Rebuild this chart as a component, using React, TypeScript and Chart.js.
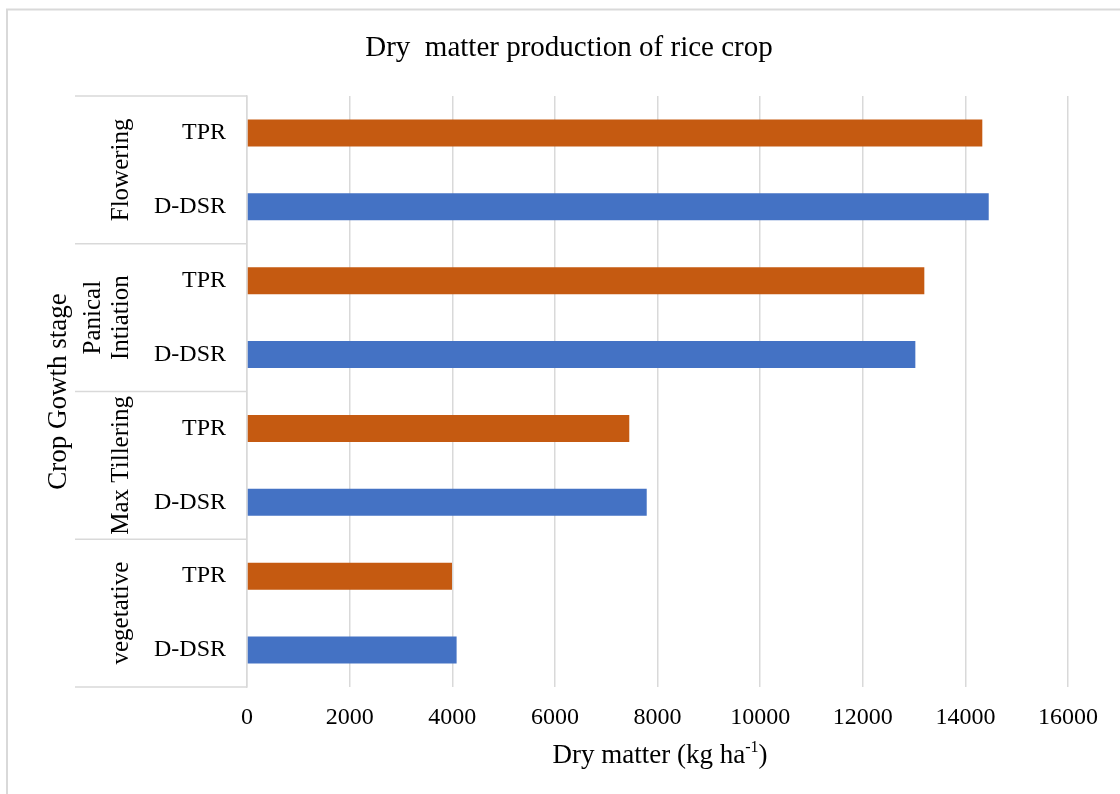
import React, { useEffect, useRef } from "react";
import { Chart, registerables } from "chart.js";

Chart.register(...registerables);

const chartTitle = "Dry  matter production of rice crop";
const stages = ["Flowering", "Panical\nIntiation", "Max Tillering", "vegetative"];
const methods = ["TPR", "D-DSR"];
const tprValues = [14330, 13200, 7450, 3995];
const ddsrValues = [14455, 13025, 7790, 4085];
const xMin = 0;
const xMax = 16000;
const xStep = 2000;
const yAxisTitle = "Crop Gowth stage";
const xAxisTitleMain = "Dry matter (kg ha";
const xAxisTitleSup = "-1";
const xAxisTitleEnd = ")";

const FONT = "'Liberation Serif', 'Times New Roman', serif";
const GRID = "#d9d9d9";
const TPR_COLOR = "#C55A11";
const DDSR_COLOR = "#4472C4";

const labels = stages.flatMap(() => methods);
const tprData = stages.flatMap((_, i) => [tprValues[i], null]);
const ddsrData = stages.flatMap((_, i) => [null, ddsrValues[i]]);

const decorPlugin = {
  id: "decor",
  beforeDraw(chart: any) {
    const ctx = chart.ctx;
    ctx.save();
    ctx.strokeStyle = GRID;
    ctx.lineWidth = 2;
    ctx.beginPath();
    ctx.moveTo(7, 800);
    ctx.lineTo(7, 9.5);
    ctx.lineTo(1125, 9.5);
    ctx.stroke();
    ctx.restore();
  },
  afterDraw(chart: any) {
    const ctx = chart.ctx;
    const y = chart.scales.y;
    const x = chart.scales.x;
    ctx.save();
    ctx.fillStyle = "#000";

    // Title
    ctx.font = `29px ${FONT}`;
    ctx.textAlign = "center";
    ctx.textBaseline = "middle";
    ctx.fillText(chartTitle, 569, 48);

    // Group separators
    ctx.strokeStyle = GRID;
    ctx.lineWidth = 1.5;
    const axisX = x.left;
    for (let k = 0; k <= stages.length; k++) {
      let yy: number;
      if (k === 0) yy = y.top;
      else if (k === stages.length) yy = y.bottom;
      else yy = (y.getPixelForValue(2 * k - 1) + y.getPixelForValue(2 * k)) / 2;
      ctx.beginPath();
      ctx.moveTo(75, yy);
      ctx.lineTo(axisX, yy);
      ctx.stroke();
    }

    // Group labels (rotated)
    ctx.font = `25px ${FONT}`;
    for (let k = 0; k < stages.length; k++) {
      const cy = (y.getPixelForValue(2 * k) + y.getPixelForValue(2 * k + 1)) / 2;
      const lines = stages[k].split("\n");
      ctx.save();
      ctx.translate(121, cy);
      ctx.rotate(-Math.PI / 2);
      ctx.textAlign = "center";
      ctx.textBaseline = "middle";
      lines.forEach((ln, j) => {
        ctx.fillText(ln, 0, (j - (lines.length - 1)) * 28);
      });
      ctx.restore();
    }

    // Y axis title
    ctx.save();
    ctx.font = `27px ${FONT}`;
    ctx.translate(59, (y.top + y.bottom) / 2);
    ctx.rotate(-Math.PI / 2);
    ctx.textAlign = "center";
    ctx.textBaseline = "middle";
    ctx.fillText(yAxisTitle, 0, 0);
    ctx.restore();

    // X axis title with superscript
    ctx.font = `27px ${FONT}`;
    const w1 = ctx.measureText(xAxisTitleMain).width;
    ctx.font = `16px ${FONT}`;
    const w2 = ctx.measureText(xAxisTitleSup).width;
    ctx.font = `27px ${FONT}`;
    const w3 = ctx.measureText(xAxisTitleEnd).width;
    const total = w1 + w2 + w3;
    const cx = 660;
    let sx = cx - total / 2;
    const baseY = 763;
    ctx.textAlign = "left";
    ctx.textBaseline = "alphabetic";
    ctx.fillText(xAxisTitleMain, sx, baseY);
    sx += w1;
    ctx.font = `16px ${FONT}`;
    ctx.fillText(xAxisTitleSup, sx, baseY - 11);
    sx += w2;
    ctx.font = `27px ${FONT}`;
    ctx.fillText(xAxisTitleEnd, sx, baseY);

    ctx.restore();
  },
};

export default function App() {
  const canvasRef = useRef<HTMLCanvasElement | null>(null);

  useEffect(() => {
    const canvas = canvasRef.current;
    if (!canvas) return;
    const chart = new Chart(canvas, {
      type: "bar",
      data: {
        labels,
        datasets: [
          {
            label: methods[0],
            data: tprData,
            backgroundColor: TPR_COLOR,
            borderWidth: 0,
            grouped: false,
            categoryPercentage: 1,
            barPercentage: 0.366,
          } as any,
          {
            label: methods[1],
            data: ddsrData,
            backgroundColor: DDSR_COLOR,
            borderWidth: 0,
            grouped: false,
            categoryPercentage: 1,
            barPercentage: 0.366,
          } as any,
        ],
      },
      options: {
        indexAxis: "y",
        animation: false,
        responsive: false,
        layout: { padding: { left: 0, right: 52, top: 96, bottom: 0 } },
        plugins: {
          legend: { display: false },
          title: { display: false },
          tooltip: { enabled: false },
        },
        scales: {
          x: {
            min: xMin,
            max: xMax,
            ticks: {
              stepSize: xStep,
              font: { family: FONT, size: 24 },
              color: "#000",
              padding: 16,
              maxRotation: 0,
              callback: (v: any) => String(v),
            },
            grid: { color: GRID, lineWidth: 1.5, drawTicks: false },
            border: { display: false },
            afterFit(scale: any) {
              scale.height = 107;
            },
          },
          y: {
            ticks: {
              font: { family: FONT, size: 24 },
              color: "#000",
              padding: 21,
              autoSkip: false,
            },
            grid: { display: false, drawTicks: false },
            border: { display: true, color: GRID, width: 1.5 },
            afterFit(scale: any) {
              scale.width = 247;
            },
          },
        },
      },
      plugins: [decorPlugin],
    });
    return () => chart.destroy();
  }, []);

  return (
    <div style={{ position: "fixed", left: 0, top: 0, width: 1120, height: 794, background: "#fff" }}>
      <canvas ref={canvasRef} width={1120} height={794} style={{ display: "block" }} />
    </div>
  );
}
